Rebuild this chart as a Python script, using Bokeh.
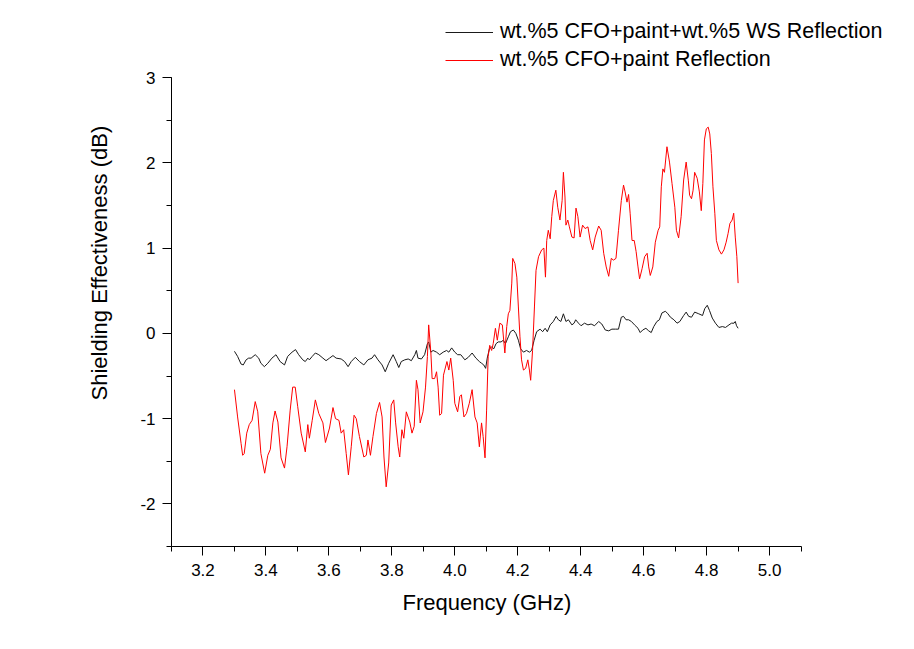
from bokeh.plotting import figure
from bokeh.models import (Range1d, SingleIntervalTicker, NumeralTickFormatter,
                          Legend, LegendItem, Title)
from bokeh.embed import file_html
from bokeh.resources import INLINE

# ---- data ----
ws_freq = [3.300, 3.310, 3.321, 3.328, 3.337, 3.345, 3.353, 3.366, 3.377, 3.384,
           3.395, 3.406, 3.419, 3.432, 3.445, 3.459, 3.469, 3.483, 3.494, 3.504,
           3.517, 3.525, 3.533, 3.538, 3.547, 3.557, 3.568, 3.581, 3.591, 3.602,
           3.613, 3.623, 3.639, 3.650, 3.661, 3.671, 3.684, 3.697, 3.711, 3.724,
           3.737, 3.745, 3.756, 3.769, 3.779, 3.790, 3.804, 3.814, 3.822, 3.830,
           3.841, 3.852, 3.862, 3.873, 3.878, 3.883, 3.894, 3.904, 3.913, 3.917,
           3.924, 3.931, 3.942, 3.952, 3.963, 3.974, 3.981, 3.990, 4.000, 4.009,
           4.019, 4.032, 4.043, 4.055, 4.067, 4.078, 4.085, 4.092, 4.098, 4.103,
           4.110, 4.117, 4.124, 4.131, 4.138, 4.147, 4.154, 4.161, 4.170, 4.177,
           4.186, 4.194, 4.202, 4.209, 4.218, 4.228, 4.237, 4.244, 4.252, 4.260,
           4.271, 4.279, 4.287, 4.294, 4.303, 4.313, 4.322, 4.329, 4.337, 4.345,
           4.353, 4.361, 4.372, 4.379, 4.384, 4.393, 4.401, 4.412, 4.423, 4.433,
           4.444, 4.457, 4.467, 4.478, 4.489, 4.499, 4.510, 4.520, 4.529, 4.536,
           4.544, 4.552, 4.561, 4.571, 4.582, 4.589, 4.597, 4.607, 4.616, 4.624,
           4.632, 4.642, 4.650, 4.658, 4.669, 4.677, 4.685, 4.696, 4.706, 4.715,
           4.727, 4.735, 4.743, 4.752, 4.762, 4.775, 4.787, 4.794, 4.802, 4.809,
           4.818, 4.828, 4.839, 4.850, 4.860, 4.871, 4.879, 4.887, 4.891, 4.895,
           4.900]
ws_se = [-0.21, -0.27, -0.36, -0.37, -0.31, -0.29, -0.29, -0.25, -0.29, -0.35,
         -0.39, -0.35, -0.29, -0.25, -0.33, -0.37, -0.27, -0.22, -0.19, -0.25,
         -0.31, -0.33, -0.29, -0.31, -0.27, -0.23, -0.25, -0.29, -0.32, -0.29,
         -0.26, -0.29, -0.30, -0.33, -0.39, -0.33, -0.28, -0.33, -0.37, -0.31,
         -0.29, -0.25, -0.31, -0.37, -0.45, -0.35, -0.25, -0.33, -0.40, -0.33,
         -0.31, -0.30, -0.32, -0.25, -0.20, -0.29, -0.30, -0.25, -0.12, -0.10,
         -0.22, -0.20, -0.22, -0.25, -0.22, -0.20, -0.22, -0.17, -0.22, -0.25,
         -0.25, -0.31, -0.28, -0.23, -0.29, -0.33, -0.35, -0.37, -0.41, -0.29,
         -0.18, -0.16, -0.18, -0.12, -0.10, -0.10, -0.08, -0.12, -0.04, 0.02,
         0.04, 0.00, -0.08, -0.18, -0.22, -0.20, -0.22, -0.20, -0.08, 0.02,
         0.05, 0.02, 0.06, 0.02, 0.10, 0.14, 0.20, 0.16, 0.14, 0.23,
         0.14, 0.16, 0.10, 0.12, 0.16, 0.12, 0.09, 0.12, 0.10, 0.11,
         0.09, 0.14, 0.11, 0.04, 0.03, 0.05, 0.05, 0.05, 0.19, 0.20,
         0.16, 0.16, 0.14, 0.10, 0.06, 0.01, 0.04, 0.06, 0.03, 0.01,
         0.08, 0.14, 0.16, 0.24, 0.26, 0.23, 0.19, 0.16, 0.12, 0.14,
         0.21, 0.25, 0.20, 0.19, 0.25, 0.23, 0.21, 0.29, 0.33, 0.27,
         0.18, 0.12, 0.07, 0.08, 0.07, 0.10, 0.12, 0.12, 0.14, 0.09,
         0.06]

cfo_freq = [3.300, 3.310, 3.321, 3.326, 3.331, 3.339, 3.347, 3.356, 3.366, 3.374,
            3.384, 3.396, 3.406, 3.414, 3.422, 3.429, 3.438, 3.448, 3.459, 3.467,
            3.477, 3.485, 3.493, 3.501, 3.512, 3.525, 3.533, 3.538, 3.547, 3.557,
            3.568, 3.581, 3.589, 3.602, 3.613, 3.621, 3.632, 3.639, 3.647, 3.655,
            3.662, 3.671, 3.680, 3.687, 3.697, 3.711, 3.719, 3.724, 3.732, 3.740,
            3.751, 3.761, 3.769, 3.775, 3.782, 3.790, 3.798, 3.806, 3.812, 3.820,
            3.825, 3.832, 3.838, 3.846, 3.857, 3.864, 3.871, 3.878, 3.883, 3.890,
            3.899, 3.907, 3.913, 3.917, 3.924, 3.928, 3.936, 3.942, 3.947, 3.952,
            3.958, 3.964, 3.975, 3.981, 3.987, 3.995, 4.000, 4.009, 4.016, 4.021,
            4.029, 4.037, 4.046, 4.055, 4.064, 4.071, 4.078, 4.085, 4.090, 4.096,
            4.101, 4.106, 4.111, 4.117, 4.122, 4.129, 4.135, 4.143, 4.151, 4.159,
            4.165, 4.170, 4.175, 4.181, 4.184, 4.191, 4.197, 4.202, 4.207, 4.212,
            4.218, 4.225, 4.232, 4.237, 4.241, 4.247, 4.253, 4.258, 4.266, 4.276,
            4.283, 4.288, 4.292, 4.297, 4.303, 4.308, 4.313, 4.321, 4.327, 4.334,
            4.341, 4.345, 4.350, 4.353, 4.359, 4.364, 4.372, 4.379, 4.385, 4.391,
            4.398, 4.406, 4.414, 4.423, 4.430, 4.438, 4.446, 4.457, 4.465, 4.473,
            4.481, 4.489, 4.497, 4.504, 4.512, 4.520, 4.529, 4.536, 4.541, 4.547,
            4.552, 4.557, 4.563, 4.570, 4.576, 4.582, 4.587, 4.595, 4.603, 4.611,
            4.616, 4.621, 4.629, 4.637, 4.646, 4.651, 4.656, 4.661, 4.666, 4.674,
            4.682, 4.690, 4.699, 4.704, 4.711, 4.719, 4.727, 4.735, 4.742, 4.746,
            4.752, 4.757, 4.762, 4.770, 4.777, 4.783, 4.788, 4.793, 4.799, 4.805,
            4.810, 4.815, 4.820, 4.826, 4.831, 4.839, 4.847, 4.855, 4.862, 4.868,
            4.874, 4.881, 4.886, 4.891, 4.896, 4.900]
cfo_se = [-0.66, -0.98, -1.29, -1.43, -1.41, -1.17, -1.07, -1.02, -0.80, -0.92,
          -1.41, -1.64, -1.43, -1.36, -1.05, -0.91, -1.04, -1.46, -1.58, -1.33,
          -0.90, -0.63, -0.63, -0.86, -1.17, -1.39, -1.07, -1.23, -1.02, -0.78,
          -0.94, -1.05, -1.28, -1.11, -0.87, -1.00, -1.02, -1.17, -1.13, -1.41,
          -1.66, -1.33, -0.96, -1.00, -1.21, -1.45, -1.43, -1.25, -1.43, -1.21,
          -0.94, -0.81, -0.98, -1.45, -1.80, -1.52, -0.84, -0.78, -1.05, -1.33,
          -1.45, -1.13, -1.23, -0.92, -1.04, -1.17, -1.09, -0.55, -0.66, -1.05,
          -0.92, -0.63, -0.27, 0.10, -0.23, -0.53, -0.53, -0.45, -0.63, -0.96,
          -0.94, -0.49, -0.33, -0.43, -0.29, -0.55, -0.82, -0.92, -0.74, -0.72,
          -0.98, -0.94, -0.82, -0.66, -0.98, -1.05, -1.33, -1.05, -1.21, -1.46,
          -0.90, -0.27, -0.14, -0.20, -0.12, 0.06, -0.08, 0.12, 0.10, -0.23,
          0.08, 0.23, 0.27, 0.59, 0.88, 0.82, 0.66, 0.31, -0.04, -0.31,
          -0.43, -0.41, -0.31, -0.43, -0.55, -0.20, 0.31, 0.74, 0.90, 0.98,
          1.00, 0.66, 1.09, 1.21, 1.11, 1.37, 1.56, 1.68, 1.48, 1.33,
          1.56, 1.89, 1.60, 1.27, 1.33, 1.25, 1.13, 1.12, 1.47, 1.37,
          1.13, 1.27, 1.23, 1.25, 1.09, 0.98, 1.13, 1.26, 1.21, 0.94,
          0.78, 0.67, 0.88, 0.86, 0.88, 1.21, 1.56, 1.74, 1.66, 1.54,
          1.63, 1.41, 1.09, 1.09, 0.96, 0.78, 0.64, 0.76, 0.90, 0.94,
          0.78, 0.68, 0.78, 1.07, 1.21, 1.25, 1.72, 1.93, 1.89, 2.19,
          2.01, 1.76, 1.48, 1.21, 1.12, 1.37, 1.80, 2.01, 1.79, 1.62,
          1.58, 1.68, 1.89, 1.82, 1.66, 1.44, 1.76, 2.27, 2.40, 2.42,
          2.34, 2.11, 1.72, 1.41, 1.09, 0.98, 0.93, 0.98, 1.07, 1.17,
          1.29, 1.33, 1.41, 1.13, 0.90, 0.59]

series_names = ["wt.%5 CFO+paint+wt.%5 WS Reflection", "wt.%5 CFO+paint Reflection"]
x_title = "Frequency (GHz)"
y_title = "Shielding Effectiveness (dB)"

FONT = "Liberation Sans"

# ranges extend beyond the drawn axes (bounds) so the legend sits inside the frame
p = figure(width=898, height=630, output_backend="svg", toolbar_location=None,
           x_range=Range1d(3.1, 5.4), y_range=Range1d(-2.5, 3.847),
           min_border_left=171, min_border_right=3, min_border_top=5,
           min_border_bottom=84)
p.outline_line_color = None
p.grid.visible = False
p.background_fill_color = "white"
p.border_fill_color = "white"

r_ws = p.line(ws_freq, ws_se, line_color="#1a1a1a", line_width=1)
r_cfo = p.line(cfo_freq, cfo_se, line_color="#ff0000", line_width=1)

p.xaxis.ticker = SingleIntervalTicker(interval=0.2, num_minor_ticks=2)
p.yaxis.ticker = SingleIntervalTicker(interval=1, num_minor_ticks=2)
p.xaxis.formatter = NumeralTickFormatter(format="0.0")
p.yaxis.formatter = NumeralTickFormatter(format="0")
p.xaxis.bounds = (3.1, 5.1)
p.yaxis.bounds = (-2.5, 3.0)

for ax in (p.xaxis[0], p.yaxis[0]):
    ax.axis_line_color = "black"
    ax.axis_line_width = 1
    ax.major_tick_line_color = "black"
    ax.minor_tick_line_color = "black"
    ax.major_tick_in = 0
    ax.major_tick_out = 9
    ax.minor_tick_in = 0
    ax.minor_tick_out = 5
    ax.major_label_text_font = FONT
    ax.major_label_text_font_size = "17px"
    ax.major_label_text_color = "black"

p.xaxis.major_label_standoff = 8
p.yaxis.major_label_standoff = 7

xtitle = Title(text=x_title, align="left", offset=231, standoff=18,
               text_font=FONT, text_font_size="22px", text_font_style="normal",
               text_color="black")
p.add_layout(xtitle, "below")

ytitle = Title(text=y_title, align="left", offset=146, standoff=52,
               text_font=FONT, text_font_size="22px", text_font_style="normal",
               text_color="black")
p.add_layout(ytitle, "left")

legend = Legend(items=[LegendItem(label=series_names[0], renderers=[r_ws]),
                       LegendItem(label=series_names[1], renderers=[r_cfo])],
                location=(274, 474), orientation="vertical",
                glyph_width=48, glyph_height=20, label_standoff=7,
                label_text_font=FONT, label_text_font_size="21.5px",
                label_text_color="black", spacing=3, padding=0, margin=0,
                border_line_alpha=0, background_fill_alpha=0)
p.add_layout(legend)

open("out.html", "w").write(file_html(p, INLINE))
